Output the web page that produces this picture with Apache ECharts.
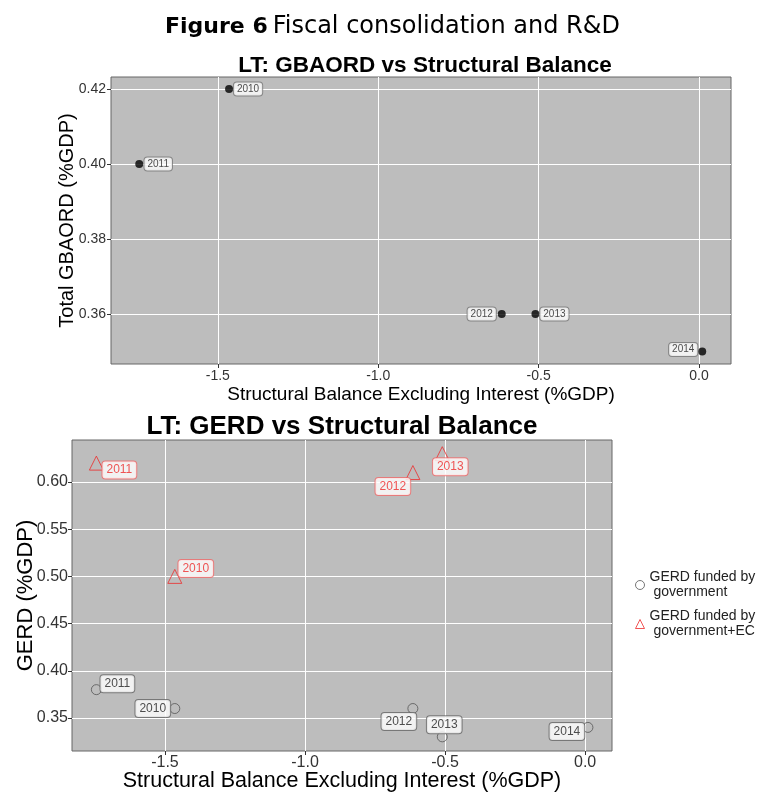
<!DOCTYPE html>
<html>
<head>
<meta charset="utf-8">
<script src="https://cdn.jsdelivr.net/npm/echarts@6/dist/echarts.min.js"></script>
<style>
  html, body { margin: 0; padding: 0; background: #fff; }
  #chart { width: 763px; height: 794px; }
</style>
</head>
<body>
<div id="chart"></div>
<script>
// data
const years = ['2010', '2011', '2012', '2013', '2014']
const structBalance = [-1.465, -1.745, -0.615, -0.51, 0.01]
const gbaord = [0.42, 0.40, 0.36, 0.36, 0.35]
const gerdGov = [0.36, 0.38, 0.36, 0.33, 0.34]
const gerdGovEc = [0.50, 0.62, 0.61, 0.63, null]

const xTicks = [-1.5, -1.0, -0.5, 0.0]
const yTicksTop = [0.36, 0.38, 0.40, 0.42]
const yTicksBottom = [0.35, 0.40, 0.45, 0.50, 0.55, 0.60]

// label nudges (px), like ggrepel placed them
const offTop = [[19, 0], [19, 0], [-20, 0], [19, 0], [-19, -2]]
const offGov = [[-22, 0], [21, -6], [-14, 13], [2, -12], [-21, 4]]
const offGovEc = [[21, -8], [23, 7], [-20, 14], [8, 13], null]

const RED = '#ee2b2b'
const GREY = '#555'
const FONT = "'Liberation Sans', Arial, sans-serif"

function points(ys, offs, labelStyle) {
  const out = []
  years.forEach((yr, i) => {
    if (ys[i] == null) return
    out.push({
      value: [structBalance[i], ys[i]],
      name: yr,
      label: Object.assign({ offset: offs[i] }, labelStyle)
    })
  })
  return out
}

const tickStyle = { show: true, length: 4, lineStyle: { color: '#333' } }

function valueAxis(extra) {
  return Object.assign({
    type: 'value',
    axisLine: { show: false, onZero: false },
    splitLine: { show: true, lineStyle: { color: '#fff', width: 1 } },
    nameLocation: 'middle',
    nameMoveOverlap: false
  }, extra)
}

const chart = echarts.init(document.getElementById('chart'))

chart.setOption({
  animation: false,
  backgroundColor: '#fff',
  title: [
    {
      text: '{b|Figure 6} {n|Fiscal consolidation and R&D}',
      left: 160, top: 10,
      textStyle: {
        rich: {
          b: { fontFamily: 'DejaVu Sans', fontWeight: 'bold', fontSize: 22, color: '#000' },
          n: { fontFamily: 'DejaVu Sans', fontWeight: 'normal', fontSize: 24, color: '#000' }
        }
      }
    },
    {
      text: 'LT: GBAORD vs Structural Balance',
      left: 420, top: 49, textAlign: 'center',
      textStyle: { fontFamily: FONT, fontWeight: 'bold', fontSize: 22.5, color: '#000' }
    },
    {
      text: 'LT: GERD vs Structural Balance',
      left: 337, top: 409, textAlign: 'center',
      textStyle: { fontFamily: FONT, fontWeight: 'bold', fontSize: 26, color: '#000' }
    }
  ],
  grid: [
    { left: 111, top: 77, width: 620, height: 287, show: true, outerBoundsMode: 'none',
      backgroundColor: '#bdbdbd', borderColor: '#666', borderWidth: 1 },
    { left: 72, top: 440, width: 540, height: 311, show: true, outerBoundsMode: 'none',
      backgroundColor: '#bdbdbd', borderColor: '#666', borderWidth: 1 }
  ],
  xAxis: [
    valueAxis({
      gridIndex: 0, min: -1.833, max: 0.0997,
      name: 'Structural Balance Excluding Interest (%GDP)', nameGap: 21,
      nameTextStyle: { fontFamily: FONT, fontSize: 19, color: '#000' },
      axisTick: Object.assign({ customValues: xTicks }, tickStyle),
      axisLabel: { customValues: xTicks, formatter: v => v.toFixed(1),
        fontFamily: FONT, fontSize: 14, color: '#333', margin: 5 }
    }),
    valueAxis({
      gridIndex: 1, min: -1.832, max: 0.096,
      name: 'Structural Balance Excluding Interest (%GDP)', nameGap: 19,
      nameTextStyle: { fontFamily: FONT, fontSize: 21.5, color: '#000' },
      axisTick: Object.assign({ customValues: xTicks }, tickStyle),
      axisLabel: { customValues: xTicks, formatter: v => v.toFixed(1),
        fontFamily: FONT, fontSize: 16, color: '#333', margin: 4 }
    })
  ],
  yAxis: [
    valueAxis({
      gridIndex: 0, min: 0.3467, max: 0.4232,
      name: 'Total GBAORD (%GDP)', nameGap: 34,
      nameTextStyle: { fontFamily: FONT, fontSize: 20, color: '#000' },
      axisTick: Object.assign({ customValues: yTicksTop }, tickStyle),
      axisLabel: { customValues: yTicksTop, formatter: v => v.toFixed(2),
        fontFamily: FONT, fontSize: 14, color: '#333', margin: 5 }
    }),
    valueAxis({
      gridIndex: 1, min: 0.315, max: 0.6445,
      name: 'GERD (%GDP)', nameGap: 35,
      nameTextStyle: { fontFamily: FONT, fontSize: 22, color: '#000' },
      axisTick: Object.assign({ customValues: yTicksBottom }, tickStyle),
      axisLabel: { customValues: yTicksBottom, formatter: v => v.toFixed(2),
        fontFamily: FONT, fontSize: 16, color: '#333', margin: 4 }
    })
  ],
  legend: {
    orient: 'vertical',
    left: 630, top: 565,
    itemGap: 9, itemWidth: 9, itemHeight: 9,
    textStyle: { fontFamily: FONT, fontSize: 14, color: '#222', lineHeight: 15 },
    formatter: n => n.replace('funded by ', 'funded by\n '),
    data: [
      { name: 'GERD funded by government', icon: 'circle',
        itemStyle: { color: 'transparent', borderColor: GREY, borderWidth: 1 } },
      { name: 'GERD funded by government+EC', icon: 'triangle',
        itemStyle: { color: 'transparent', borderColor: RED, borderWidth: 1 } }
    ]
  },
  series: [
    {
      type: 'scatter', xAxisIndex: 0, yAxisIndex: 0,
      symbol: 'circle', symbolSize: 8,
      itemStyle: { color: '#000' },
      label: { show: true, formatter: p => p.name },
      data: points(gbaord, offTop, {
        show: true, position: 'inside', fontFamily: FONT, fontSize: 10, color: '#222',
        backgroundColor: '#fff', borderColor: '#777', borderWidth: 1, borderRadius: 3,
        padding: [2, 3, 1, 3]
      })
    },
    {
      name: 'GERD funded by government',
      type: 'scatter', xAxisIndex: 1, yAxisIndex: 1,
      symbol: 'circle', symbolSize: 10,
      itemStyle: { color: 'transparent', borderColor: GREY, borderWidth: 1 },
      label: { show: true, formatter: p => p.name },
      data: points(gerdGov, offGov, {
        show: true, position: 'inside', fontFamily: FONT, fontSize: 12, color: '#222',
        backgroundColor: '#fff', borderColor: '#666', borderWidth: 1, borderRadius: 3,
        padding: [3, 4, 2, 4]
      })
    },
    {
      name: 'GERD funded by government+EC',
      type: 'scatter', xAxisIndex: 1, yAxisIndex: 1,
      symbol: 'triangle', symbolSize: 14,
      itemStyle: { color: 'transparent', borderColor: RED, borderWidth: 1 },
      label: { show: true, formatter: p => p.name },
      data: points(gerdGovEc, offGovEc, {
        show: true, position: 'inside', fontFamily: FONT, fontSize: 12, color: RED,
        backgroundColor: '#fff', borderColor: '#f06a6a', borderWidth: 1, borderRadius: 3,
        padding: [3, 4, 2, 4]
      })
    }
  ]
})
</script>
</body>
</html>
